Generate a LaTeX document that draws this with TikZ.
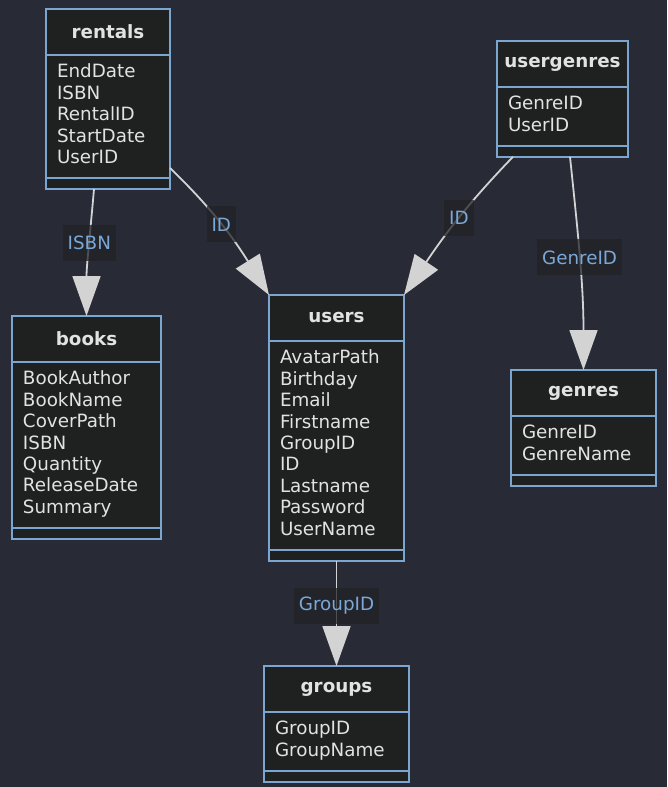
\documentclass[tikz,border=0pt]{standalone}
\usepackage{fontspec}
\setmainfont{DejaVu Sans}
\usetikzlibrary{positioning,arrows.meta}

\definecolor{bgcol}{HTML}{282A36}
\definecolor{boxcol}{HTML}{1F2020}
\definecolor{bordercol}{HTML}{7BA6D2}
\definecolor{txtcol}{HTML}{E2E2E2}
\definecolor{linecol}{HTML}{D3D3D3}
\definecolor{lblcol}{HTML}{222326}
\definecolor{lbltxt}{HTML}{7AA8D8}

\begin{document}
\begin{tikzpicture}[x=1pt, y=1pt, >={Triangle[length=40pt,width=28pt]},
  every node/.style={font=\fontsize{18.3}{21.4}\selectfont, text=txtcol},
  head/.style={draw=bordercol, line width=2pt, fill=boxcol, outer sep=0pt,
    minimum height=46pt, anchor=north west, font=\fontsize{18.3}{21.4}\selectfont\bfseries},
  attrs/.style={draw=bordercol, line width=2pt, fill=boxcol, outer sep=0pt,
    align=left, inner xsep=11pt, inner ysep=8pt},
  foot/.style={draw=bordercol, line width=2pt, fill=boxcol, outer sep=0pt,
    minimum height=11pt, inner sep=0pt},
  rel/.style={draw=linecol, line width=1.8pt, ->},
  lbl/.style={fill=lblcol, fill opacity=0.75, text opacity=1, text=lbltxt,
    inner xsep=5pt, minimum height=36pt}]
  % background and page size
  \fill[bgcol] (0,0) rectangle (667,-787);
  \useasboundingbox (0,0) rectangle (667,-787);

  % rentals
  \node[head, minimum width=124pt] (rentals) at (46,-9) {rentals};
  \node[attrs, text width=102pt, below=0pt of rentals] (rentals-a)
    {\strut EndDate\\ISBN\\RentalID\\StartDate\\UserID\strut};
  \node[foot, minimum width=124pt, below=0pt of rentals-a] (rentals-f) {};

  % books
  \node[head, minimum width=149pt] (books) at (12,-316) {books};
  \node[attrs, text width=127pt, below=0pt of books] (books-a)
    {\strut BookAuthor\\BookName\\CoverPath\\ISBN\\Quantity\\ReleaseDate\\Summary\strut};
  \node[foot, minimum width=149pt, below=0pt of books-a] (books-f) {};

  % users
  \node[head, minimum width=135pt] (users) at (269,-295) {users};
  \node[attrs, text width=113pt, below=0pt of users] (users-a)
    {\strut AvatarPath\\Birthday\\Email\\Firstname\\GroupID\\ID\\Lastname\\Password\\UserName\strut};
  \node[foot, minimum width=135pt, below=0pt of users-a] (users-f) {};

  % usergenres
  \node[head, minimum width=131pt] (usergenres) at (497,-41) {usergenres};
  \node[attrs, text width=109pt, below=0pt of usergenres] (usergenres-a)
    {\strut GenreID\\UserID\strut};
  \node[foot, minimum width=131pt, below=0pt of usergenres-a] (usergenres-f) {};

  % genres
  \node[head, minimum width=145pt] (genres) at (511,-370) {genres};
  \node[attrs, text width=123pt, below=0pt of genres] (genres-a)
    {\strut GenreID\\GenreName\strut};
  \node[foot, minimum width=145pt, below=0pt of genres-a] (genres-f) {};

  % groups
  \node[head, minimum width=145pt] (groups) at (264,-666) {groups};
  \node[attrs, text width=123pt, below=0pt of groups] (groups-a)
    {\strut GroupID\\GroupName\strut};
  \node[foot, minimum width=145pt, below=0pt of groups-a] (groups-f) {};

  % relations
  \draw[rel] ([xshift=-14pt]rentals-f.south) to[out=-95, in=90]
    node[lbl, pos=0.42] {ISBN} (books.north);
  \draw[rel] ([yshift=10pt]rentals-a.south east) to[out=-44, in=122]
    node[lbl, pos=0.47] {ID} (users.north west);
  \draw[rel] ([xshift=16pt]usergenres-f.south west) to[out=-134, in=56]
    node[lbl, pos=0.46] {ID} (users.north east);
  \draw[rel] ([xshift=7.5pt]usergenres-f.south) to[out=-84, in=90]
    node[lbl, pos=0.47] {GenreID} (genres.north);
  \draw[rel] (users-f.south) --
    node[lbl, pos=0.43] {GroupID} (groups.north);
\end{tikzpicture}
\end{document}
